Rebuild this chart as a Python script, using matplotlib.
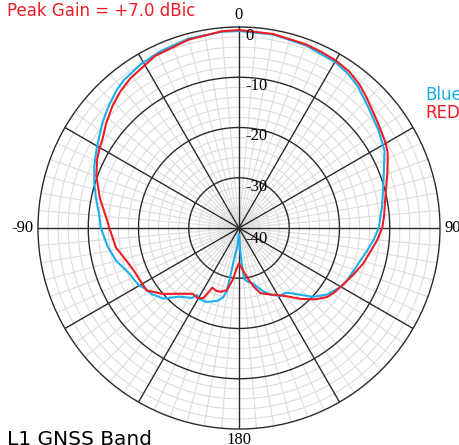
import numpy as np
import matplotlib
matplotlib.use('Agg')
import matplotlib.pyplot as plt

# antenna pattern: angle (deg, clockwise from top), gain (dB)
red_ang = [0, 10, 20, 25, 30, 35, 40, 44, 47, 52, 56, 60, 63, 66, 70, 75, 80, 85,
           90, 95, 100, 106, 112, 119, 124, 128, 133, 139, 145, 150, 153, 157, 162,
           166, 170, 175, 180, 184, 187, 191, 196, 200, 204, 207, 211, 215, 222,
           229, 236, 242, 247, 253, 261, 270, 275, 282, 290, 296, 300, 303, 308,
           314, 319, 324, 334, 345, 355, 360]
red_db = [-0.6, -0.8, -1.1, -1.3, -1.5, -1.9, -2.7, -3.6, -4.3, -5.2, -5.8, -6.3,
          -6.8, -7.6, -8.6, -9.7, -10.5, -11.0, -11.5, -12.4, -13.4, -14.3, -15.4,
          -16.5, -17.1, -17.7, -19.2, -21.3, -23.4, -24.6, -25.1, -25.7, -26.4,
          -28.0, -29.8, -31.6, -33.0, -31.6, -29.6, -27.4, -26.8, -26.7, -27.0,
          -24.3, -23.8, -24.0, -22.4, -20.0, -17.8, -17.7, -17.5, -16.8, -15.2,
          -14.2, -13.4, -11.7, -9.8, -8.6, -8.0, -7.6, -6.4, -5.0, -4.0, -3.2,
          -1.9, -1.2, -0.7, -0.6]

blue_ang = [0, 10, 20, 30, 35, 40, 47, 55, 62, 68, 75, 82, 90, 95, 100, 105, 110,
            116, 120, 127, 133, 138, 143.5, 146, 149, 155, 160, 166, 171, 174, 175.5,
            177, 179, 181, 185, 189, 190, 191, 193, 197, 204, 210, 212, 214, 221,
            227, 233, 237, 240, 244, 248, 255, 262, 270, 275, 282, 287, 293, 299,
            303, 308, 313, 318, 322, 329, 336, 345, 355, 360]
blue_db = [-0.8, -0.9, -1.3, -1.8, -2.4, -3.2, -4.8, -6.1, -7.2, -8.9, -10.3, -11.3,
           -12.2, -13.1, -14.1, -15.0, -15.6, -16.1, -16.6, -18.0, -19.9, -22.2,
           -24.0, -24.2, -24.2, -25.4, -26.8, -28.6, -29.2, -29.8, -32.4, -35.6,
           -38.4, -38.8, -36.4, -33.6, -30.8, -27.2, -25.8, -24.8, -23.9, -23.8,
           -24.3, -23.2, -21.9, -19.4, -18.2, -17.8, -17.1, -16.7, -16.3, -14.7,
           -13.6, -12.5, -12.1, -10.9, -9.9, -8.7, -7.6, -6.8, -5.6, -4.5, -3.4,
           -2.7, -2.0, -1.5, -1.0, -0.8, -0.8]

ring_vals = [0, -10, -20, -30, -40]
ring_labels = ['0', '-10', '-20', '-30', '-40']
ang_vals = [0, 90, 180, 270]
ang_labels = ['0', '90', '180', '-90']

RED = '#ee1c25'
BLUE = '#1aaeee'

fig = plt.figure(figsize=(4.6, 4.45), dpi=100)
ax = fig.add_axes([38/460, 16/445, 402/460, 402/445], projection='polar')
ax.set_theta_zero_location('N')
ax.set_theta_direction(-1)
ax.set_ylim(-40, 0)
ax.set_xticks([])
ax.set_yticks([])
ax.grid(False)

# light grid: every 2 dB and every 5 deg
full = np.linspace(0, 2*np.pi, 721)
for r in range(-38, 0, 2):
    if r % 10:
        ax.plot(full, np.full_like(full, r), color='#dcdcdc', lw=0.8, zorder=1)
for a in range(0, 360, 5):
    if a % 30:
        ax.plot([np.radians(a)]*2, [-40, 0], color='#dcdcdc', lw=0.8, zorder=1)
# dark grid
for r in (-30, -20, -10):
    ax.plot(full, np.full_like(full, r), color='#2a2a2a', lw=1.0, zorder=2)
for a in range(0, 360, 30):
    ax.plot([np.radians(a)]*2, [-40, 0], color='#2a2a2a', lw=1.0, zorder=2)
ax.spines['polar'].set_color('#2a2a2a')
ax.spines['polar'].set_linewidth(1.0)

ax.plot(np.radians(blue_ang), blue_db, color=BLUE, lw=1.5, zorder=4)
ax.plot(np.radians(red_ang), red_db, color=RED, lw=1.5, zorder=5)

serif = 'Liberation Serif'
for v, lab in zip(ring_vals, ring_labels):
    dy = -11 if v == -40 else -9
    ax.annotate(lab, xy=(0, v), xytext=(6, dy), textcoords='offset pixels',
                ha='left', va='center', fontsize=12, family=serif, zorder=6)

offs = {0: (0, 4, 'center', 'bottom'), 90: (5, 0, 'left', 'center'),
        180: (0, -3, 'center', 'top'), 270: (-4, 0, 'right', 'center')}
for v, lab in zip(ang_vals, ang_labels):
    dx, dy, ha, va = offs[v]
    ax.annotate(lab, xy=(np.radians(v), 0), xytext=(dx, dy), textcoords='offset pixels',
                ha=ha, va=va, fontsize=12, family=serif, annotation_clip=False)

fig.text(7/460, 1 - 11/445, 'Peak Gain = +7.0 dBic', color=RED, fontsize=12,
         ha='left', va='center')
fig.text(425/460, 1 - 95/445, 'Blue', color=BLUE, fontsize=12, ha='left', va='center')
fig.text(425/460, 1 - 113/445, 'RED', color=RED, fontsize=12, ha='left', va='center')
fig.text(7/460, 1 - 430/445, 'L1 GNSS Band', color='black', fontsize=14.5,
         ha='left', va='top')

fig.savefig('out.png', dpi=100)
